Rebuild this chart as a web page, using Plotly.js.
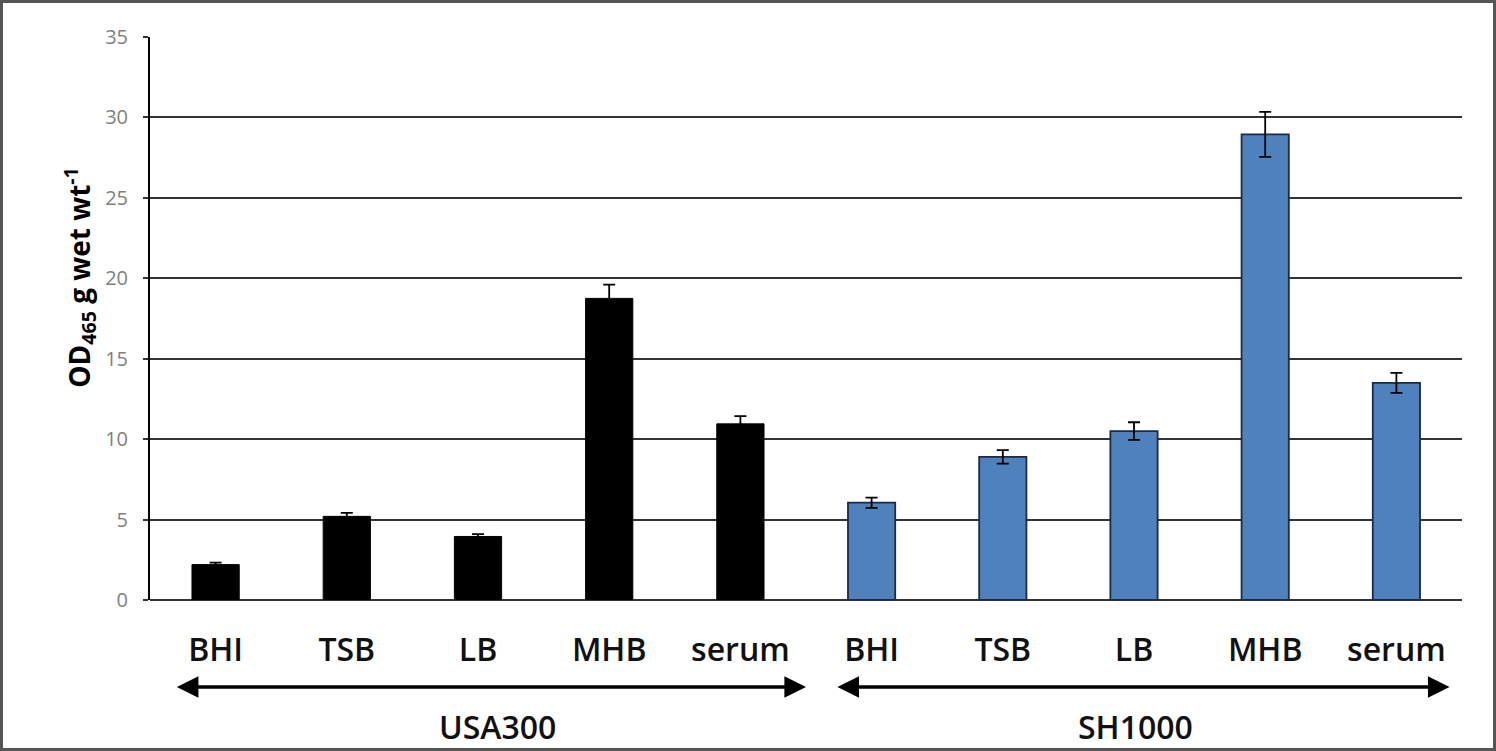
<!DOCTYPE html>
<html><head><meta charset="utf-8">
<script src="https://cdn.plot.ly/plotly-3.0.1.min.js"></script>
<style>
html,body{margin:0;padding:0;background:#fff;}
#wrap{position:relative;width:1496px;height:751px;}
#chart{width:1496px;height:751px;}
#frame{position:absolute;left:0;top:0;width:1496px;height:751px;box-sizing:border-box;border:3px solid #555;pointer-events:none;}
</style></head>
<body><div id="wrap"><div id="chart"></div><div id="frame"></div></div>
<script>
const media = ["BHI","TSB","LB","MHB","serum"];
const strains = ["USA300","SH1000"];
const usa300Values = [2.2, 5.2, 3.95, 18.75, 10.95];
const usa300Errors = [0.12, 0.22, 0.15, 0.85, 0.48];
const sh1000Values = [6.05, 8.9, 10.5, 28.95, 13.5];
const sh1000Errors = [0.32, 0.42, 0.55, 1.4, 0.62];
const yTicks = [0,5,10,15,20,25,30,35];
const yTitle = 'OD<sub>465</sub> g wet wt<sup>-1</sup>';

const xUSA = media.map((_, i) => i);
const xSH = media.map((_, i) => i + media.length);
const allTicks = xUSA.concat(xSH);
const allText = media.concat(media);

const font = "'Open Sans', sans-serif";
const barW = 0.36;

const traces = [
  {type:'bar', x:xUSA, y:usa300Values, width:barW, name:strains[0],
   marker:{color:'#000000', line:{color:'#000000', width:1}},
   error_y:{type:'data', array:usa300Errors, visible:true, color:'#000', thickness:1.8, width:6}},
  {type:'bar', x:xSH, y:sh1000Values, width:barW, name:strains[1],
   marker:{color:'#4F81BD', line:{color:'#1c2a44', width:1.8}},
   error_y:{type:'data', array:sh1000Errors, visible:true, color:'#000', thickness:1.8, width:6}}
];

const arrowY = -0.1545;
const layout = {
  width:1496, height:751,
  margin:{l:150, r:34, t:37, b:151},
  paper_bgcolor:'#fff', plot_bgcolor:'#fff',
  showlegend:false, barmode:'overlay',
  font:{family:font, color:'#000'},
  xaxis:{range:[-0.5, 9.5], tickvals:allTicks, ticktext:allText, showgrid:false,
    zeroline:false, showline:false, ticks:'', ticklabelstandoff:28,
    tickfont:{size:32, color:'#111', family:font, weight:600}},
  yaxis:{range:[0,35], tickvals:yTicks, showgrid:true, gridcolor:'#333', gridwidth:2,
    zeroline:true, zerolinecolor:'#333', zerolinewidth:2,
    showline:true, linecolor:'#000', linewidth:2,
    ticks:'outside', ticklen:5, tickcolor:'#333', tickwidth:2, ticklabelstandoff:11,
    tickfont:{size:20, color:'#7f7f7f', family:font}},
  annotations:[
    {xref:'paper', yref:'paper', x:-0.0534, y:0.574, xanchor:'center', yanchor:'middle',
     textangle:-90, text:yTitle, showarrow:false,
     font:{size:28, family:font, color:'#000', weight:'bold'}},
    {xref:'x', yref:'paper', x:4.5, y:arrowY, axref:'x', ayref:'pixel', ax:-0.307, ay:0,
     showarrow:true, arrowside:'end+start', arrowhead:2, arrowsize:1.2, arrowwidth:3.6, arrowcolor:'#000', text:''},
    {xref:'x', yref:'paper', x:9.405, y:arrowY, axref:'x', ayref:'pixel', ax:4.728, ay:0,
     showarrow:true, arrowside:'end+start', arrowhead:2, arrowsize:1.2, arrowwidth:3.6, arrowcolor:'#000', text:''},
    {xref:'x', yref:'paper', x:2.152, y:-0.224, yanchor:'middle', text:strains[0], showarrow:false,
     font:{size:32, family:font, color:'#111', weight:600}},
    {xref:'x', yref:'paper', x:7.008, y:-0.2255, yanchor:'middle', text:strains[1], showarrow:false,
     font:{size:32, family:font, color:'#111', weight:600}}
  ]
};
Plotly.newPlot('chart', traces, layout, {displayModeBar:false, staticPlot:true});
</script></body></html>
